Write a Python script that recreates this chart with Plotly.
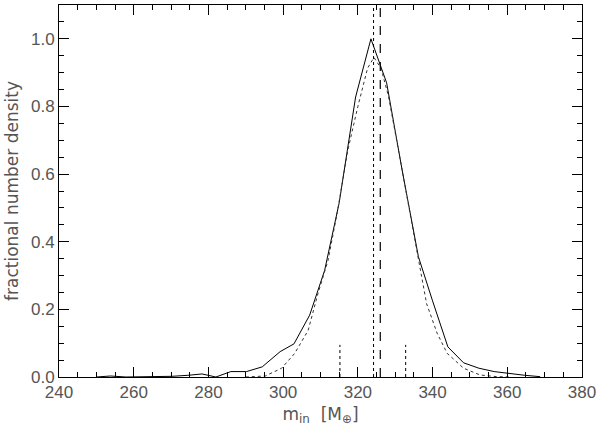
import plotly.graph_objects as go

# solid histogram-like curve
m_solid = [250.0, 253.8, 257.9, 262.0, 266.1, 270.2, 274.5, 278.3, 282.0, 286.0,
           290.2, 294.4, 299.2, 302.9, 307.1, 311.1, 315.0, 319.4, 323.5, 327.7,
           331.8, 336.2, 340.0, 344.1, 348.3, 352.4, 356.5, 360.6, 364.7, 368.8]
n_solid = [0.0, 0.003, 0.0, 0.0, 0.0, 0.002, 0.005, 0.009, 0.0, 0.016,
           0.016, 0.030, 0.075, 0.098, 0.183, 0.315, 0.515, 0.828, 1.0, 0.870,
           0.615, 0.356, 0.225, 0.089, 0.042, 0.026, 0.016, 0.010, 0.005, 0.001]

# dotted smooth curve
m_dot = [290.0, 295.2, 299.6, 303.1, 306.7, 309.3, 312.0, 314.5, 317.3, 320.0,
         322.6, 324.3, 326.2, 328.2, 330.1, 332.2, 334.1, 336.0, 338.4, 341.2,
         343.9, 348.3, 352.7, 357.2, 361.0]
n_dot = [0.0, 0.003, 0.026, 0.070, 0.138, 0.246, 0.344, 0.487, 0.670, 0.800,
         0.913, 0.945, 0.913, 0.830, 0.717, 0.590, 0.470, 0.360, 0.217, 0.130,
         0.070, 0.026, 0.006, 0.001, 0.0]

v_dotted = 324.2      # full-height dotted line
v_dashed = 326.0      # full-height dashed line
v_short = [315.2, 332.8]
short_h = 0.095

fig = go.Figure()
fig.add_trace(go.Scatter(x=m_solid, y=n_solid, mode="lines",
                         line=dict(color="black", width=1)))
fig.add_trace(go.Scatter(x=m_dot, y=n_dot, mode="lines",
                         line=dict(color="#333", width=1, dash="dot")))

fig.add_vline(x=v_dotted, line=dict(color="black", width=1, dash="dot"))
fig.add_vline(x=v_dashed, line=dict(color="black", width=1.2, dash="dash"))
for v in v_short:
    fig.add_shape(type="line", x0=v, x1=v, y0=0, y1=short_h, xref="x", yref="y",
                  line=dict(color="black", width=1, dash="dot"))

tick_font = dict(family="Liberation Sans", size=17, color="#555")
title_font = dict(family="DejaVu Sans", size=17, color="#555")
common = dict(showgrid=False, zeroline=False, showline=True, linecolor="black",
              linewidth=1, mirror=True, ticks="inside", ticklen=10,
              tickcolor="black", tickfont=tick_font, ticklabeloverflow="allow")

fig.update_xaxes(range=[240, 380], dtick=20, tick0=240,
                 minor=dict(dtick=5, ticks="inside", ticklen=5, tickcolor="black"),
                 title=dict(text="m<sub>in</sub>  [M<sub>⊕</sub>]", font=title_font, standoff=6),
                 **common)
fig.update_yaxes(range=[0, 1.1], dtick=0.2, tickformat=".1f",
                 minor=dict(dtick=0.05, ticks="inside", ticklen=5, tickcolor="black"),
                 title=dict(text="fractional number density", font=title_font, standoff=8),
                 **common)

# tick marks on the top and right sides
fig.update_layout(
    xaxis2=dict(overlaying="x", side="top", matches="x", range=[240, 380], dtick=20, tick0=240,
                ticks="inside", ticklen=10, tickcolor="black", showticklabels=False,
                showgrid=False, zeroline=False,
                minor=dict(dtick=5, ticks="inside", ticklen=5, tickcolor="black")),
    yaxis2=dict(overlaying="y", side="right", range=[0, 1.1], dtick=0.2,
                ticks="inside", ticklen=10, tickcolor="black", showticklabels=False,
                showgrid=False, zeroline=False,
                minor=dict(dtick=0.05, ticks="inside", ticklen=5, tickcolor="black")),
)
fig.add_trace(go.Scatter(x=[None], y=[None], xaxis="x2", yaxis="y2", showlegend=False))

fig.update_layout(width=600, height=432, showlegend=False,
                  margin=dict(l=59, r=14, t=4, b=55),
                  plot_bgcolor="white", paper_bgcolor="white")

fig.write_html("out.html", config={"displayModeBar": False},
               post_script="document.body.style.margin='0';")
